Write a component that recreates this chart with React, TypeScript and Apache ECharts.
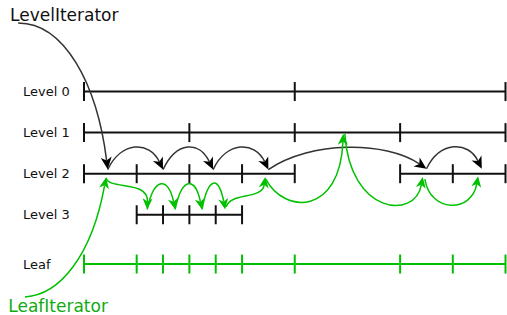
import React, { useEffect, useRef } from "react";
import * as echarts from "echarts";

// ---- Data (x in key units 0..8, y in level rows) ----
const levelNames = ["Level 0", "Level 1", "Level 2", "Level 3", "Leaf"];
const levelRows = [0, 1, 2, 3, 4.2];
const levelSegments = [
  [[0, 8]],
  [[0, 8]],
  [[0, 4], [6, 8]],
  [[1, 3]],
  [[0, 8]],
];
const levelTicks = [
  [0, 4, 8],
  [0, 2, 4, 6, 8],
  [0, 1, 2, 3, 4, 6, 7, 8],
  [1, 1.5, 2, 2.5, 3],
  [0, 1, 1.5, 2, 2.5, 3, 4, 6, 7, 8],
];
const levelIsLeaf = [false, false, false, false, true];

// cubic curves: [start, control1, control2, end]
const levelIteratorCurve = [[-1.25, -1.67], [-0.36, -1.67], [0.25, -0.16], [0.45, 1.89]];
const levelHops = [
  [[0.45, 1.9], [0.71, 1.2], [1.24, 1.2], [1.5, 1.9]],
  [[1.5, 1.9], [1.76, 1.2], [2.19, 1.2], [2.45, 1.9]],
  [[2.45, 1.9], [2.71, 1.2], [3.24, 1.2], [3.5, 1.9]],
  [[3.5, 1.9], [4.3, 1.2], [5.72, 1.2], [6.5, 1.88]],
  [[6.5, 1.88], [6.76, 1.2], [7.29, 1.2], [7.55, 1.88]],
];
const leafIteratorCurve = [[-1.12, 5.0], [-0.455, 4.955], [0.152, 3.98], [0.418, 2.094]];
const leafHops = [
  [[0.42, 2.1], [0.46, 2.4], [1.22, 2.15], [1.2, 2.87]],
  [[1.2, 2.87], [1.33, 2.07], [1.6, 2.07], [1.73, 2.87]],
  [[1.73, 2.87], [1.86, 2.07], [2.11, 2.07], [2.24, 2.87]],
  [[2.24, 2.87], [2.36, 2.05], [2.56, 2.05], [2.68, 2.87]],
  [[2.7, 2.81], [2.77, 2.45], [3.38, 2.64], [3.44, 2.08]],
  [[3.45, 2.13], [3.81, 3.0], [4.86, 3.0], [4.92, 1.03]],
  [[4.95, 1.03], [5.05, 3.0], [6.28, 3.13], [6.43, 2.08]],
  [[6.47, 2.13], [6.57, 2.96], [7.36, 2.96], [7.48, 2.06]],
];
const iteratorNames = ["LevelIterator", "LeafIterator"];
const iteratorAnchors = [[-1.404, -1.86], [-1.437, 5.23]];

const BLACK = "#111111";
const CURVE_BLACK = "#333333";
const GREEN = "#00c000";
const TEXT_GREEN = "#10aa10";

const curves = [
  { pts: levelIteratorCurve, green: false },
  ...levelHops.map((pts) => ({ pts, green: false })),
  { pts: leafIteratorCurve, green: true },
  ...leafHops.map((pts) => ({ pts, green: true })),
];

export default function App() {
  const ref = useRef<HTMLDivElement>(null);
  useEffect(() => {
    document.body.style.margin = "0";
    const chart = echarts.init(ref.current!, null, { renderer: "svg" });
    const option: any = {
      animation: false,
      backgroundColor: "#ffffff",
      grid: { left: 84, width: 421.5, top: 9.4, height: 287.5 },
      xAxis: { type: "value", min: 0, max: 8, show: false },
      yAxis: { type: "value", min: -2, max: 5, inverse: true, show: false },
      series: [
        {
          type: "custom",
          name: "levels",
          clip: false,
          data: levelRows.map((y) => [0, y]),
          encode: { x: 0, y: 1 },
          renderItem: (params: any, api: any) => {
            const i = params.dataIndex;
            const y = levelRows[i];
            const color = levelIsLeaf[i] ? GREEN : BLACK;
            const children: any[] = [];
            levelSegments[i].forEach(([a, b]) => {
              const p1 = api.coord([a, y]);
              const p2 = api.coord([b, y]);
              children.push({
                type: "line",
                shape: { x1: p1[0], y1: p1[1], x2: p2[0], y2: p2[1] },
                style: { stroke: color, lineWidth: 2 },
              });
            });
            levelTicks[i].forEach((t) => {
              const p = api.coord([t, y]);
              children.push({
                type: "line",
                shape: { x1: p[0], y1: p[1] - 9.5, x2: p[0], y2: p[1] + 9.5 },
                style: { stroke: color, lineWidth: 2 },
              });
            });
            const p0 = api.coord([0, y]);
            children.push({
              type: "text",
              x: p0[0] - 61,
              y: p0[1],
              style: {
                text: levelNames[i],
                fill: BLACK,
                fontSize: 13,
                fontFamily: "DejaVu Sans",
                align: "left",
                verticalAlign: "middle",
              },
            });
            return { type: "group", children };
          },
        },
        {
          type: "custom",
          name: "iterators",
          clip: false,
          data: curves.map((c) => c.pts[3]),
          encode: { x: 0, y: 1 },
          renderItem: (params: any, api: any) => {
            const c = curves[params.dataIndex];
            const [s, c1, c2, e] = c.pts.map((p) => api.coord(p));
            const stroke = c.green ? GREEN : CURVE_BLACK;
            const fill = c.green ? GREEN : "#000000";
            let dx = e[0] - c2[0];
            let dy = e[1] - c2[1];
            const len = Math.hypot(dx, dy) || 1;
            dx /= len;
            dy /= len;
            const L = c.green ? 11 : 12;
            const W = c.green ? 5 : 5.5;
            const bx = e[0] - dx * L;
            const by = e[1] - dy * L;
            const nx = e[0] - dx * L * 0.72;
            const ny = e[1] - dy * L * 0.72;
            const px = -dy;
            const py = dx;
            return {
              type: "group",
              children: [
                {
                  type: "bezierCurve",
                  shape: {
                    x1: s[0], y1: s[1],
                    cpx1: c1[0], cpy1: c1[1],
                    cpx2: c2[0], cpy2: c2[1],
                    x2: nx, y2: ny,
                  },
                  style: { stroke, lineWidth: 1.5, fill: null },
                },
                {
                  type: "polygon",
                  shape: {
                    points: [
                      [e[0], e[1]],
                      [bx + px * W, by + py * W],
                      [nx, ny],
                      [bx - px * W, by - py * W],
                    ],
                  },
                  style: { fill, stroke: "none" },
                },
              ],
            };
          },
        },
        {
          type: "custom",
          name: "labels",
          clip: false,
          data: iteratorAnchors,
          encode: { x: 0, y: 1 },
          renderItem: (params: any, api: any) => {
            const i = params.dataIndex;
            const p = api.coord(iteratorAnchors[i]);
            return {
              type: "text",
              x: p[0],
              y: p[1],
              style: {
                text: iteratorNames[i],
                fill: i === 1 ? TEXT_GREEN : BLACK,
                fontSize: 17,
                fontFamily: "DejaVu Sans",
                align: "left",
                verticalAlign: "middle",
              },
            };
          },
        },
      ],
    };
    chart.setOption(option);
    return () => chart.dispose();
  }, []);
  return (
    <div
      ref={ref}
      style={{ width: 507, height: 315, position: "fixed", left: 0, top: 0, background: "#fff" }}
    />
  );
}
